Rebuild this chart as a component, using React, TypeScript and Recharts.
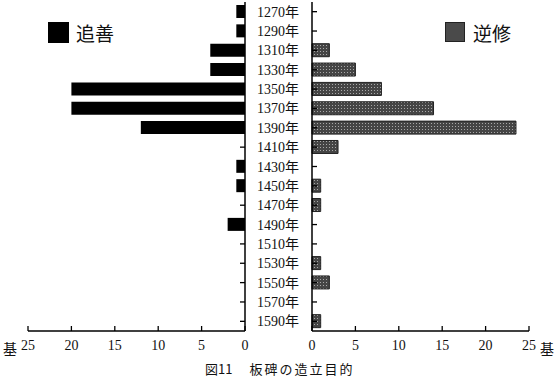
import { BarChart, Bar, XAxis, YAxis } from "recharts";

// 年代 (category labels)
const years = [
  "1270年", "1290年", "1310年", "1330年", "1350年", "1370年", "1390年", "1410年", "1430年",
  "1450年", "1470年", "1490年", "1510年", "1530年", "1550年", "1570年", "1590年",
];

// 追善 (left, black)
const tsuizen = [1, 1, 4, 4, 20, 20, 12, 0, 1, 1, 0, 2, 0, 0, 0, 0, 0];

// 逆修 (right, dotted grey)
const gyakushu = [0, 0, 2, 5, 8, 14, 23.5, 3, 0, 1, 1, 0, 0, 1, 2, 0, 1];

const xTicks = [0, 5, 10, 15, 20, 25];

const data = years.map((year, i) => ({ year, tsuizen: tsuizen[i], gyakushu: gyakushu[i] }));

const SERIF = "'Liberation Serif', 'Noto Sans CJK JP', serif";
const CJK = "'Noto Sans CJK JP', sans-serif";

// year label sits in the gap between the two charts, tick points left into the plot
function LeftYTick({ x, y, payload }: any) {
  return (
    <g>
      <line x1={x - 5} y1={y} x2={x} y2={y} stroke="#000" strokeWidth={1.3} />
      <text x={x + 33} y={y} dy={5} textAnchor="middle" fontSize={14} fontFamily={SERIF} fill="#111">
        {payload.value}
      </text>
    </g>
  );
}

function RightYTick({ x, y }: any) {
  return <line x1={x} y1={y} x2={x + 5} y2={y} stroke="#000" strokeWidth={1.3} />;
}

// x ticks point upward into the plot
function XTick({ x, y, payload }: any) {
  return (
    <g>
      <line x1={x} y1={y} x2={x} y2={y - 5} stroke="#000" strokeWidth={1.3} />
      <text x={x} y={y} dy={19} textAnchor="middle" fontSize={14} fontFamily={SERIF} fill="#111">
        {payload.value}
      </text>
    </g>
  );
}

export default function App() {
  return (
    <div style={{ position: "absolute", left: 0, top: 0, width: 557, height: 378, background: "#fff" }}>
      {/* 追善 side */}
      <div style={{ position: "absolute", left: 0, top: 0 }}>
        <BarChart layout="vertical" width={312} height={360} data={data}
          margin={{ top: 2, right: 0, bottom: 0, left: 28 }}>
          <XAxis type="number" domain={[0, 25]} ticks={xTicks} reversed height={29}
            tickSize={0} tickMargin={0} tickLine={false} tick={<XTick />}
            axisLine={{ stroke: "#000", strokeWidth: 1.5 }} />
          <YAxis type="category" dataKey="year" orientation="right" width={67}
            tickSize={0} tickMargin={0} tickLine={false} tick={<LeftYTick />}
            axisLine={{ stroke: "#000", strokeWidth: 1.5 }} interval={0} />
          <Bar dataKey="tsuizen" fill="#000" barSize={13} isAnimationActive={false} />
        </BarChart>
      </div>

      {/* 逆修 side */}
      <div style={{ position: "absolute", left: 305, top: 0 }}>
        <BarChart layout="vertical" width={252} height={360} data={data}
          margin={{ top: 2, right: 28, bottom: 0, left: 0 }}>
          <defs>
            <pattern id="dots" width="3" height="3" patternUnits="userSpaceOnUse">
              <rect width="3" height="3" fill="#454545" />
              <rect width="1" height="1" fill="#a8a8a8" />
            </pattern>
          </defs>
          <XAxis type="number" domain={[0, 25]} ticks={xTicks} height={29}
            tickSize={0} tickMargin={0} tickLine={false} tick={<XTick />}
            axisLine={{ stroke: "#000", strokeWidth: 1.5 }} />
          <YAxis type="category" dataKey="year" width={7}
            tickSize={0} tickMargin={0} tickLine={false} tick={<RightYTick />}
            axisLine={{ stroke: "#000", strokeWidth: 1.5 }} interval={0} />
          <Bar dataKey="gyakushu" fill="url(#dots)" stroke="#222" barSize={13} isAnimationActive={false} />
        </BarChart>
      </div>

      {/* legends */}
      <div style={{ position: "absolute", left: 48, top: 22, width: 21, height: 21, background: "#000" }} />
      <div style={{ position: "absolute", left: 76, top: 19, fontSize: 19, fontFamily: CJK, color: "#111" }}>追善</div>
      <div style={{ position: "absolute", left: 445, top: 22, width: 20, height: 20, background: "#4a4a4a",
        border: "1px solid #222", boxSizing: "border-box" }} />
      <div style={{ position: "absolute", left: 473, top: 19, fontSize: 19, fontFamily: CJK, color: "#111" }}>逆修</div>

      {/* units */}
      <div style={{ position: "absolute", left: 3, top: 338, fontSize: 14, fontFamily: CJK, color: "#111" }}>基</div>
      <div style={{ position: "absolute", left: 540, top: 338, fontSize: 14, fontFamily: CJK, color: "#111" }}>基</div>

      {/* caption */}
      <div style={{ position: "absolute", left: 205, top: 359, fontSize: 13, fontFamily: CJK, color: "#111", whiteSpace: "nowrap" }}>
        図11<span style={{ marginLeft: 17, letterSpacing: 2 }}>板碑の造立目的</span>
      </div>
    </div>
  );
}
